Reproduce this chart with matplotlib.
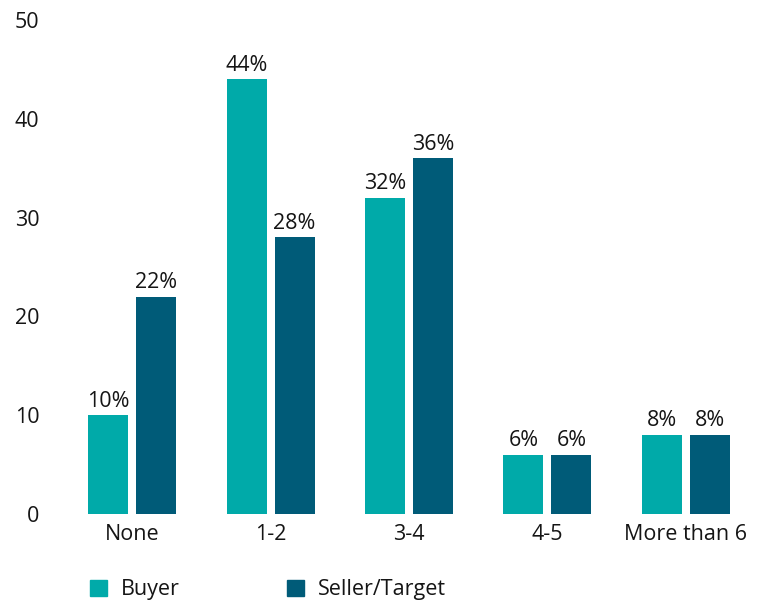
import numpy as np
import matplotlib.pyplot as plt
from matplotlib.patches import Patch

categories = ['None', '1-2', '3-4', '4-5', 'More than 6']
buyer = [10, 44, 32, 6, 8]
seller = [22, 28, 36, 6, 8]
series_names = ['Buyer', 'Seller/Target']
yticks = [0, 10, 20, 30, 40, 50]

BUYER_COLOR = '#00aaa9'
SELLER_COLOR = '#005b78'
TEXT_COLOR = '#151515'
FS = 15.5

plt.rcParams['font.family'] = ['Open Sans', 'DejaVu Sans']

fig = plt.figure(figsize=(7.62, 6.02), dpi=100)
ax = fig.add_axes([0.0827, 0.1462, 0.9081, 0.8206])

x = np.arange(len(categories))
width = 0.289
offset = 0.173

b1 = ax.bar(x - offset, buyer, width, color=BUYER_COLOR)
b2 = ax.bar(x + offset, seller, width, color=SELLER_COLOR)

# percentage labels above each bar
for bars, vals in ((b1, buyer), (b2, seller)):
    for rect, v in zip(bars, vals):
        ax.annotate(f'{v}%', (rect.get_x() + rect.get_width() / 2, v),
                    xytext=(0, 2.5), textcoords='offset points',
                    ha='center', va='bottom', fontsize=FS, color=TEXT_COLOR)

ax.set_xlim(-0.5, len(categories) - 0.5)
ax.set_ylim(0, 50)
ax.set_yticks(yticks)
ax.set_xticks(x)
ax.set_xticklabels(categories)
ax.tick_params(axis='both', length=0, labelsize=FS, labelcolor=TEXT_COLOR)
ax.tick_params(axis='y', pad=17)
ax.tick_params(axis='x', pad=7)
for s in ax.spines.values():
    s.set_visible(False)

handles = [Patch(color=BUYER_COLOR), Patch(color=SELLER_COLOR)]
fig.legend(handles, series_names, loc='center left',
           bbox_to_anchor=(0.104, 0.02), ncol=2, frameon=False,
           fontsize=FS, handlelength=0.8, handleheight=0.8,
           handletextpad=0.62, columnspacing=5.0, borderpad=0,
           labelcolor=TEXT_COLOR)

fig.savefig('out.png', dpi=100)
